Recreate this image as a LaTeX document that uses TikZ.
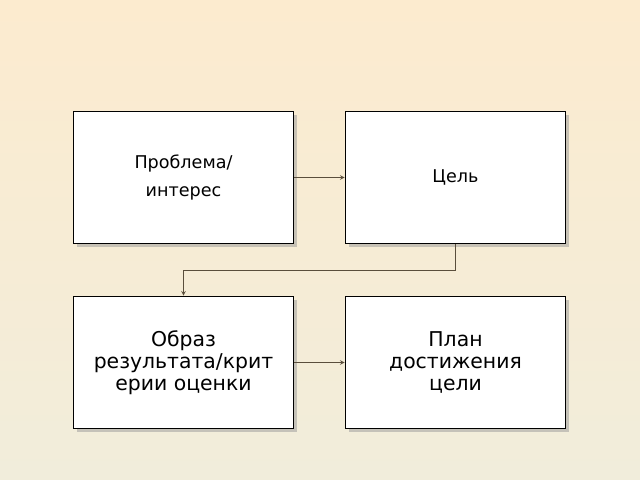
\documentclass[tikz,border=0pt]{standalone}
\usepackage{fontspec}
\setmainfont{DejaVu Sans}
\usetikzlibrary{shadows}
\definecolor{bgtop}{HTML}{FCEBCF}
\definecolor{bgbot}{HTML}{F1EDDB}
\definecolor{linecol}{HTML}{5A4E3C}

\begin{document}
\begin{tikzpicture}[%
      x=0.025cm, y=-0.025cm,
      box/.style={draw=black, line width=1.1pt, fill=white, minimum width=5.5cm,
        minimum height=3.3cm, align=center, drop shadow={shadow xshift=2.5pt, shadow yshift=-2.5pt, fill=gray!80}},
      link/.style={draw=linecol, line width=0.5pt, ->, >=stealth},
      ]
      \shade [top color=bgtop, bottom color=bgbot] (0,0) rectangle (640,480);

      \node [box, font=\fontsize{12.5}{20}\selectfont] (problem) at (183.5,177.5) {Проблема/\\интерес};
      \node [box, font=\fontsize{12.5}{14}\selectfont] (goal) at (455.5,177.5) {Цель};
      \node [box, font=\fontsize{14.5}{15.5}\selectfont] (image) at (183.5,362.5) {Образ\\результата/крит\\ерии оценки};
      \node [box, font=\fontsize{14.5}{15.5}\selectfont] (plan) at (455.5,362.5) {План\\достижения\\цели};

      \draw [link] (problem) -- (goal);
      \draw [link] (goal.south) -- ++(0,26) -| (image.north);
      \draw [link] (image) -- (plan);
\end{tikzpicture}
\end{document}
